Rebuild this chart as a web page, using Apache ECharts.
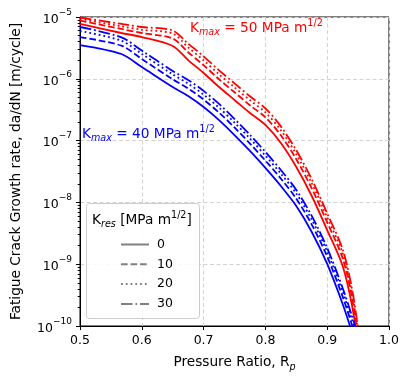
<!DOCTYPE html>
<html>
<head>
<meta charset="utf-8">
<script src="https://cdn.jsdelivr.net/npm/echarts@6/dist/echarts.min.js"></script>
<style>
  html, body { margin: 0; padding: 0; background: #fff; }
  #chart { width: 409px; height: 384px; }
</style>
</head>
<body>
<div id="chart"></div>
<script>
// Pressure ratio samples (x)
const pressureRatio = [0.5, 0.567, 0.6, 0.65, 0.675, 0.7, 0.725, 0.75, 0.775, 0.8, 0.825, 0.85, 0.875, 0.9, 0.925, 0.94, 0.95];

// Kmax = 40 MPa m^1/2 (blue), da/dN [m/cycle]
const k40_res0  = [3.52e-6, 2.52e-6, 1.55e-6, 7.36e-7, 5.27e-7, 3.50e-7, 2.15e-7, 1.23e-7, 6.79e-8, 3.61e-8, 1.84e-8, 8.75e-9, 3.32e-9, 1.01e-9, 2.27e-10, 8.0e-11, 3.80e-11];
const k40_res10 = [4.74e-6, 3.43e-6, 2.09e-6, 9.82e-7, 6.98e-7, 4.61e-7, 2.84e-7, 1.63e-7, 8.95e-8, 4.75e-8, 2.43e-8, 1.15e-8, 4.38e-9, 1.33e-9, 2.99e-10, 1.05e-10, 5.01e-11];
const k40_res20 = [5.93e-6, 4.13e-6, 2.52e-6, 1.18e-6, 8.36e-7, 5.55e-7, 3.41e-7, 1.95e-7, 1.08e-7, 5.71e-8, 2.92e-8, 1.39e-8, 5.26e-9, 1.60e-9, 3.60e-10, 1.27e-10, 6.03e-11];
const k40_res30 = [6.89e-6, 4.69e-6, 2.86e-6, 1.34e-6, 9.59e-7, 6.37e-7, 3.92e-7, 2.24e-7, 1.24e-7, 6.56e-8, 3.35e-8, 1.59e-8, 6.04e-9, 1.83e-9, 4.13e-10, 1.46e-10, 6.92e-11];

// Kmax = 50 MPa m^1/2 (red)
const k50_res0  = [7.71e-6, 5.51e-6, 4.74e-6, 3.40e-6, 2.01e-6, 1.24e-6, 7.36e-7, 4.54e-7, 2.80e-7, 1.79e-7, 9.14e-8, 3.74e-8, 1.27e-8, 3.57e-9, 9.35e-10, 2.19e-10, 4.93e-11];
const k50_res10 = [8.77e-6, 6.40e-6, 5.51e-6, 4.48e-6, 2.69e-6, 1.66e-6, 9.82e-7, 6.05e-7, 3.73e-7, 2.38e-7, 1.22e-7, 4.99e-8, 1.69e-8, 4.76e-9, 1.25e-9, 2.92e-10, 6.61e-11];
const k50_res20 = [9.33e-6, 7.06e-6, 6.22e-6, 5.38e-6, 3.23e-6, 1.99e-6, 1.18e-6, 7.28e-7, 4.49e-7, 2.86e-7, 1.47e-7, 6.00e-8, 2.04e-8, 5.73e-9, 1.50e-9, 3.51e-10, 7.94e-11];
const k50_res30 = [9.82e-6, 7.71e-6, 6.89e-6, 6.04e-6, 3.71e-6, 2.31e-6, 1.37e-6, 8.45e-7, 5.21e-7, 3.33e-7, 1.70e-7, 6.97e-8, 2.37e-8, 6.65e-9, 1.74e-9, 4.07e-10, 9.18e-11];

const kresLabels = ['0', '10', '20', '30'];
const xTicks = [0.5, 0.6, 0.7, 0.8, 0.9, 1.0];

const FONT = 'DejaVu Sans';
const BIG = 13.7, SMALL = 9.6, TICK = 12.5;
const LW = 1.8;
const dashStyles = [
  'solid',
  [3.7 * LW, 1.6 * LW],
  [1 * LW, 1.65 * LW],
  [6.4 * LW, 1.6 * LW, 1 * LW, 1.6 * LW]
];

function pairs(arr) { return pressureRatio.map((x, i) => [x, arr[i]]); }

const blueSets = [k40_res0, k40_res10, k40_res20, k40_res30];
const redSets  = [k50_res0, k50_res10, k50_res20, k50_res30];

const series = [];
function curve(name, arr, color, i) {
  return {
    name: name, type: 'line', data: pairs(arr), showSymbol: false, symbol: 'none',
    smooth: 0.3,
    lineStyle: { color: color, width: LW, type: dashStyles[i] }, itemStyle: { color: color },
    xAxisIndex: 0, yAxisIndex: 0, z: 3, silent: true
  };
}
redSets.forEach((arr, i) => series.push(curve('K50_' + kresLabels[i], arr, '#ff0000', i)));
blueSets.forEach((arr, i) => series.push(curve('K40_' + kresLabels[i], arr, '#0000ff', i)));
// legend handles (gray)
kresLabels.forEach((lab, i) => series.push({
  name: lab, type: 'line', data: [], symbol: 'none', showSymbol: false,
  lineStyle: { color: '#808080', width: LW, type: dashStyles[i] }, itemStyle: { color: '#808080' }
}));

const minorVals = [];
for (let e = -10; e < -5; e++) for (let k = 2; k <= 9; k++) minorVals.push(k * Math.pow(10, e));

function richTxt(color) {
  return {
    a: { fontFamily: FONT, fontSize: BIG, fill: color, color: color, lineHeight: 19, verticalAlign: 'middle' },
    s: { fontFamily: FONT, fontSize: SMALL, fontStyle: 'italic', fill: color, color: color, lineHeight: 19, verticalAlign: 'bottom' },
    p: { fontFamily: FONT, fontSize: SMALL, fill: color, color: color, lineHeight: 19, verticalAlign: 'top' }
  };
}

const chart = echarts.init(document.getElementById('chart'), null, { renderer: 'canvas' });
chart.setOption({
  animation: false,
  backgroundColor: '#ffffff',
  textStyle: { fontFamily: FONT },
  grid: { left: 80, top: 17, width: 309, height: 309, show: true, borderColor: '#000', borderWidth: 1, backgroundColor: 'transparent' },
  xAxis: {
    type: 'value', min: 0.5, max: 1.0, interval: 0.1,
    name: '{a|Pressure Ratio, R}{s|p}', nameLocation: 'middle', nameGap: 27,
    nameTextStyle: { rich: richTxt('#000') },
    axisLine: { show: true, lineStyle: { color: '#000', width: 1 } },
    axisTick: { show: true, length: 4, lineStyle: { color: '#000' } },
    axisLabel: { margin: 8, fontSize: TICK, color: '#000', fontFamily: FONT, formatter: v => v.toFixed(1) },
    splitLine: { show: true, lineStyle: { color: '#d3d3d3', width: 1, type: [4, 2.5] } }
  },
  yAxis: [{
    type: 'log', logBase: 10, min: 1e-10, max: 1e-5,
    name: 'Fatigue Crack Growth rate, da/dN [m/cycle]', nameLocation: 'middle', nameGap: 57, nameRotate: 90,
    nameTextStyle: { fontFamily: FONT, fontSize: BIG, color: '#000' },
    axisLine: { show: true, lineStyle: { color: '#000', width: 1 } },
    axisTick: { show: true, length: 4, lineStyle: { color: '#000' } },
    axisLabel: {
      margin: 8, color: '#000',
      formatter: v => '{b|10}{e|\u2212' + Math.abs(Math.round(Math.log10(v))) + '}',
      rich: {
        b: { fontFamily: FONT, fontSize: TICK, color: '#000', lineHeight: 18, verticalAlign: 'bottom' },
        e: { fontFamily: FONT, fontSize: 9, color: '#000', lineHeight: 18, verticalAlign: 'top' }
      }
    },
    splitLine: { show: true, lineStyle: { color: '#d3d3d3', width: 1, type: [4, 2.5] } }
  }, {
    type: 'log', logBase: 10, min: 1e-10, max: 1e-5, position: 'left',
    axisLine: { show: false },
    axisTick: { show: true, length: 2.3, customValues: minorVals, lineStyle: { color: '#000' } },
    axisLabel: { show: false },
    splitLine: { show: false }
  }],
  legend: {
    data: kresLabels, orient: 'vertical', left: 115, top: 233,
    itemWidth: 28, itemHeight: 14, itemGap: 6.8, selectedMode: false, z: 10,
    itemStyle: { opacity: 0 },
    textStyle: { fontFamily: FONT, fontSize: TICK, color: '#000', padding: [0, 0, 0, 3] }
  },
  graphic: [
    { type: 'rect', z: 8, silent: true,
      shape: { x: 86.5, y: 203.5, width: 113, height: 115, r: 3 },
      style: { fill: 'rgba(255,255,255,0.85)', stroke: '#cccccc', lineWidth: 1 } },
    { type: 'text', z: 9, silent: true, x: 92, y: 220,
      style: { text: '{a|K}{s|res}{a| [MPa m}{p|1/2}{a|]}', verticalAlign: 'middle', rich: richTxt('#000') } },
    { type: 'text', z: 9, silent: true, x: 190, y: 28,
      style: { text: '{a|K}{s|max}{a| = 50 MPa m}{p|1/2}', verticalAlign: 'middle', rich: richTxt('#ff0000') } },
    { type: 'text', z: 9, silent: true, x: 82, y: 134,
      style: { text: '{a|K}{s|max}{a| = 40 MPa m}{p|1/2}', verticalAlign: 'middle', rich: richTxt('#0000ff') } }
  ],
  series: series
});
</script>
</body>
</html>
